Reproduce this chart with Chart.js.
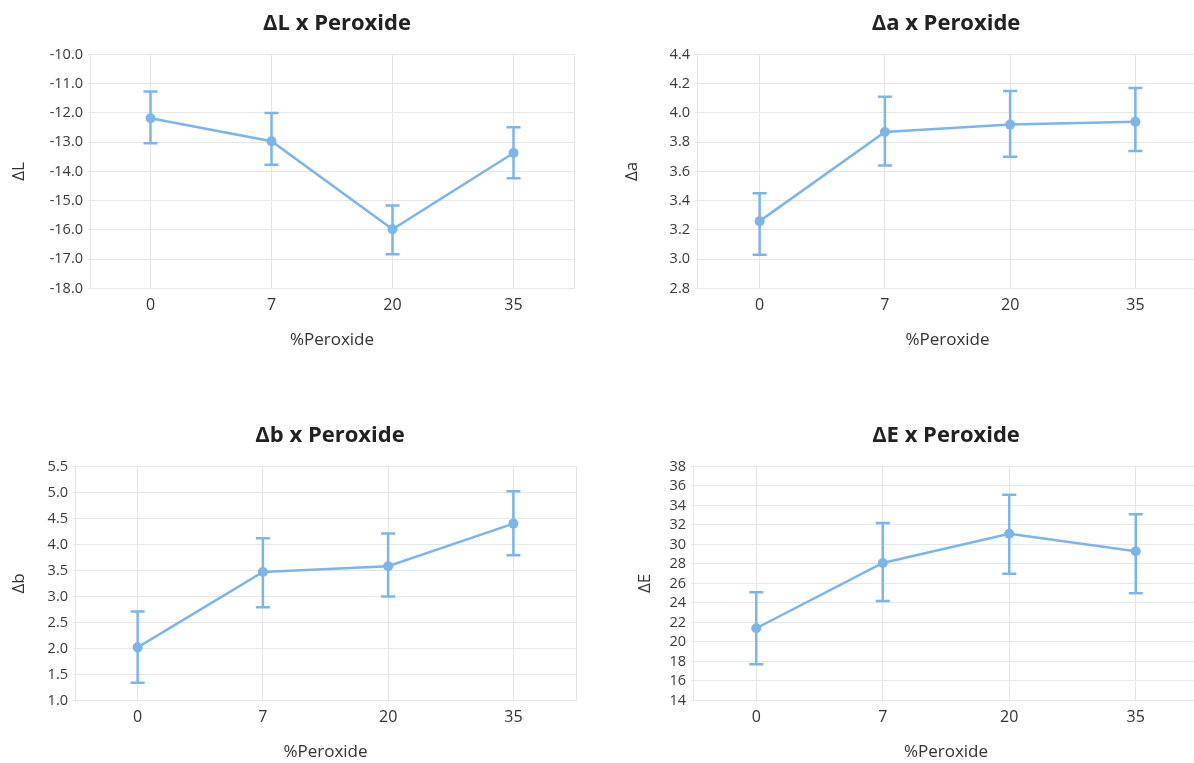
<!DOCTYPE html>
<html>
<head>
<meta charset="utf-8">
<script src="https://cdn.jsdelivr.net/npm/chart.js@4.4.0/dist/chart.umd.min.js"></script>
<style>
  html, body { margin: 0; padding: 0; background: #fff; }
  body { width: 1194px; height: 763px; overflow: hidden; position: relative; }
  .box { position: absolute; }
</style>
</head>
<body>
<div class="box" id="b1"><canvas id="c1"></canvas></div>
<div class="box" id="b2"><canvas id="c2"></canvas></div>
<div class="box" id="b3"><canvas id="c3"></canvas></div>
<div class="box" id="b4"><canvas id="c4"></canvas></div>
<script>
// データ
const categories = ['0', '7', '20', '35'];

const dL = [-12.18, -12.97, -15.98, -13.37];
const dLLow = [-13.04, -13.77, -16.83, -14.23];
const dLHigh = [-11.27, -12.00, -15.17, -12.49];

const da = [3.26, 3.87, 3.92, 3.94];
const daLow = [3.03, 3.64, 3.70, 3.74];
const daHigh = [3.45, 4.11, 4.15, 4.17];

const db = [2.02, 3.47, 3.58, 4.40];
const dbLow = [1.34, 2.79, 3.00, 3.79];
const dbHigh = [2.71, 4.12, 4.21, 5.02];

const dE = [21.4, 28.1, 31.1, 29.3];
const dELow = [17.7, 24.2, 27.0, 25.0];
const dEHigh = [25.1, 32.2, 35.1, 33.1];

const lineColor = '#7cb5ec';
const gridColor = '#e6e6e6';

Chart.defaults.font.family = "'Open Sans', 'Noto Sans', sans-serif";
Chart.defaults.color = '#333';

// エラーバー描画プラグイン
const errorBars = {
  id: 'errorBars',
  afterDatasetsDraw(chart, args, opts) {
    const { ctx, scales: { x, y } } = chart;
    const low = opts.low || [];
    const high = opts.high || [];
    ctx.save();
    ctx.strokeStyle = lineColor;
    ctx.lineWidth = 2.5;
    low.forEach((lo, i) => {
      const px = x.getPixelForValue(i);
      const yLo = y.getPixelForValue(lo);
      const yHi = y.getPixelForValue(high[i]);
      ctx.beginPath();
      ctx.moveTo(px, yLo);
      ctx.lineTo(px, yHi);
      ctx.moveTo(px - 7, yLo);
      ctx.lineTo(px + 7, yLo);
      ctx.moveTo(px - 7, yHi);
      ctx.lineTo(px + 7, yHi);
      ctx.stroke();
    });
    ctx.restore();
  }
};

// グラフ作成
function makeChart(id, box, title, yLabel, values, low, high, yMin, yMax, yStep, digits) {
  const el = document.getElementById('b' + id);
  el.style.left = box.left + 'px';
  el.style.top = box.top + 'px';
  el.style.width = box.width + 'px';
  el.style.height = '360px';

  return new Chart(document.getElementById('c' + id), {
    type: 'line',
    data: {
      labels: categories,
      datasets: [{
        data: values,
        borderColor: lineColor,
        backgroundColor: lineColor,
        borderWidth: 2.5,
        pointRadius: 5,
        pointBorderWidth: 0,
        pointBackgroundColor: lineColor,
        tension: 0,
      }]
    },
    options: {
      responsive: true,
      maintainAspectRatio: false,
      animation: false,
      layout: { padding: { left: 0, right: 0, top: 0, bottom: 6 } },
      plugins: {
        legend: { display: false },
        tooltip: { enabled: false },
        title: {
          display: true,
          text: title,
          color: '#222',
          font: { size: 22, weight: 'bold' },
          padding: { top: 11, bottom: 17 }
        },
        errorBars: { low: low, high: high }
      },
      scales: {
        x: {
          offset: true,
          grid: { color: gridColor, drawTicks: false },
          border: { color: gridColor },
          ticks: { font: { size: 16 }, color: '#333', padding: 7 },
          title: {
            display: true,
            text: '%Peroxide',
            color: '#333',
            font: { size: 17 },
            padding: { top: 8, bottom: 4 }
          }
        },
        y: {
          min: yMin,
          max: yMax,
          grid: { color: gridColor, tickLength: 2 },
          border: { color: gridColor },
          ticks: {
            stepSize: yStep,
            autoSkip: false,
            font: { size: 14.5 },
            color: '#3a3a3a',
            padding: 5,
            callback: (v) => Number(v).toFixed(digits)
          },
          title: {
            display: true,
            text: yLabel,
            color: '#333',
            font: { size: 17 },
            padding: { top: 4, bottom: 4 }
          },
          afterFit: (s) => { s.width = box.axis; }
        },
        yPad: {
          position: 'right',
          grid: { display: false },
          ticks: { display: false },
          border: { color: gridColor },
          afterFit: (s) => { s.width = box.extra; }
        }
      }
    },
    plugins: [errorBars]
  });
}

makeChart(1, { left: 5, top: 0, width: 664, axis: 85, extra: 95 },
  'ΔL x Peroxide', 'ΔL', dL, dLLow, dLHigh, -18, -10, 1, 1);
makeChart(2, { left: 618, top: 0, width: 656, axis: 79, extra: 76 },
  'Δa x Peroxide', 'Δa', da, daLow, daHigh, 2.8, 4.4, 0.2, 1);
makeChart(3, { left: 5, top: 412, width: 650, axis: 70, extra: 79 },
  'Δb x Peroxide', 'Δb', db, dbLow, dbHigh, 1.0, 5.5, 0.5, 1);
makeChart(4, { left: 631, top: 412, width: 630, axis: 62, extra: 62 },
  'ΔE x Peroxide', 'ΔE', dE, dELow, dEHigh, 14, 38, 2, 0);
</script>
</body>
</html>
